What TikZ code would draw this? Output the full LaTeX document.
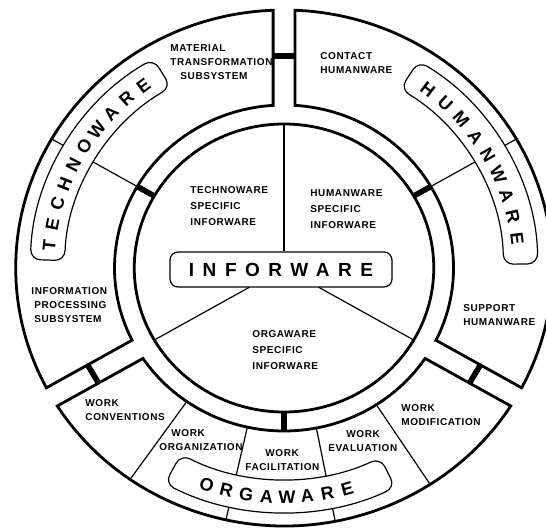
\documentclass[tikz,border=0pt]{standalone}
\usepackage{fontspec}
\setmainfont{Liberation Sans}
\newfontfamily\partfont{Liberation Sans}[LetterSpace=6]
\newfontfamily\warefont{Liberation Sans}

\begin{document}
\begin{tikzpicture}[x=0.5pt, y=0.5pt, xscale=1.04,
    rim/.style={line width=1.4pt},
    divider/.style={line width=0.6pt},
    link/.style={line width=2.8pt},
    every node/.append style={inner sep=0pt}]
  \tikzstyle{part} = [anchor=west, align=left, font=\partfont\bfseries\fontsize{5}{7}\selectfont]
  \tikzstyle{ware} = [draw, line width=0.6pt, fill=white, rounded corners=5pt]
  \tikzstyle{letter} = [font=\warefont\bfseries\fontsize{9}{11}\selectfont]
  \useasboundingbox (-273.1,-263) rectangle (251.9,268);
  \coordinate (hub) at (0,0);

  \draw[rim] (hub) circle (144);
  \foreach \a/\b in {90/210, 210/330, -30/90}
    \draw[rim] ({\a+3.69}:163) -- ({\a+2.33}:258)
      arc[start angle=\a+2.33, end angle=\b-2.33, radius=258]
      -- ({\b-3.69}:163)
      arc[start angle=\b-3.69, end angle=\a+3.69, radius=163] -- cycle;
  \foreach \a in {30, 150, 235, 257.5, 281, 303}
    \draw[divider] (\a:163) -- (\a:258);
  \foreach \a in {30, 150, 270}
    \draw[link] (\a:144) -- (\a:163);
  \foreach \a in {90, 210, 330}
    \draw[link] ({\a-2.84}:212.3) -- ({\a+2.84}:212.3);

  \draw[ware] (121:211) arc[start angle=121, end angle=178, radius=211]
    -- (178:244) arc[start angle=178, end angle=121, radius=244] -- cycle;
  \draw[ware] (1:211) arc[start angle=1, end angle=58, radius=211]
    -- (58:244) arc[start angle=58, end angle=1, radius=244] -- cycle;
  \draw[ware] (242:211) arc[start angle=242, end angle=296, radius=211]
    -- (296:244) arc[start angle=296, end angle=242, radius=244] -- cycle;

  \foreach \l [count=\i, evaluate=\i as \ang using 174.2-5.3*(\i-1)] in {T,E,C,H,N,O,W,A,R,E}
    \node (techno\i) [letter, rotate=\ang-90] at (\ang:227) {\l};
  \foreach \l [count=\i, evaluate=\i as \ang using 52.3-5.6*(\i-1)] in {H,U,M,A,N,W,A,R,E}
    \node (human\i) [letter, rotate=\ang-90] at (\ang:226) {\l};
  \foreach \l [count=\i, evaluate=\i as \ang using 251.1+4.9*(\i-1)] in {O,R,G,A,W,A,R,E}
    \node (orga\i) [letter, rotate=\ang+90] at (\ang:229) {\l};

  \node (infor) [draw, line width=0.6pt, rounded corners=4pt, minimum width=111pt,
    minimum height=17.5pt, font=\warefont\bfseries\fontsize{9.5}{11}\selectfont]
    at (-2.9,-1.5) {\addfontfeature{LetterSpace=45}INFORWARE};
  \draw[divider] (infor.north -| hub) -- (90:144);
  \draw[divider] (210:38.5) -- (210:144);
  \draw[divider] (330:38.5) -- (330:144);

  \node (material) [part] at (-109.6,206) {MATERIAL\\TRANSFORMATION\\\hspace*{5pt}SUBSYSTEM};
  \node (contact) [part] at (34.6,205) {CONTACT\\HUMANWARE};
  \node (technospec) [part] at (-90.4,62) {TECHNOWARE\\[1pt]SPECIFIC\\[1pt]INFORWARE};
  \node (humanspec) [part] at (25,59) {HUMANWARE\\[1pt]SPECIFIC\\[1pt]INFORWARE};
  \node (infoproc) [part] at (-243.3,-37) {INFORMATION\\\hspace*{1.5pt}PROCESSING\\\hspace*{1.5pt}SUBSYSTEM};
  \node (orgaspec) [part] at (-30.8,-82) {ORGAWARE\\[1pt]SPECIFIC\\[1pt]INFORWARE};
  \node (support) [part] at (172,-47) {SUPPORT\\HUMANWARE};
  \node (conventions) [part] at (-191.3,-142) {WORK\\CONVENTIONS};
  \node (organization) [part] at (-120.2,-172) {\hspace*{6pt}WORK\\ORGANIZATION};
  \node (facilitation) [part] at (-37.5,-192) {\hspace*{10pt}WORK\\FACILITATION};
  \node (evaluation) [part] at (42.3,-173) {\hspace*{9pt}WORK\\EVALUATION};
  \node (modification) [part] at (112.5,-147) {WORK\\MODIFICATION};
\end{tikzpicture}
\end{document}
